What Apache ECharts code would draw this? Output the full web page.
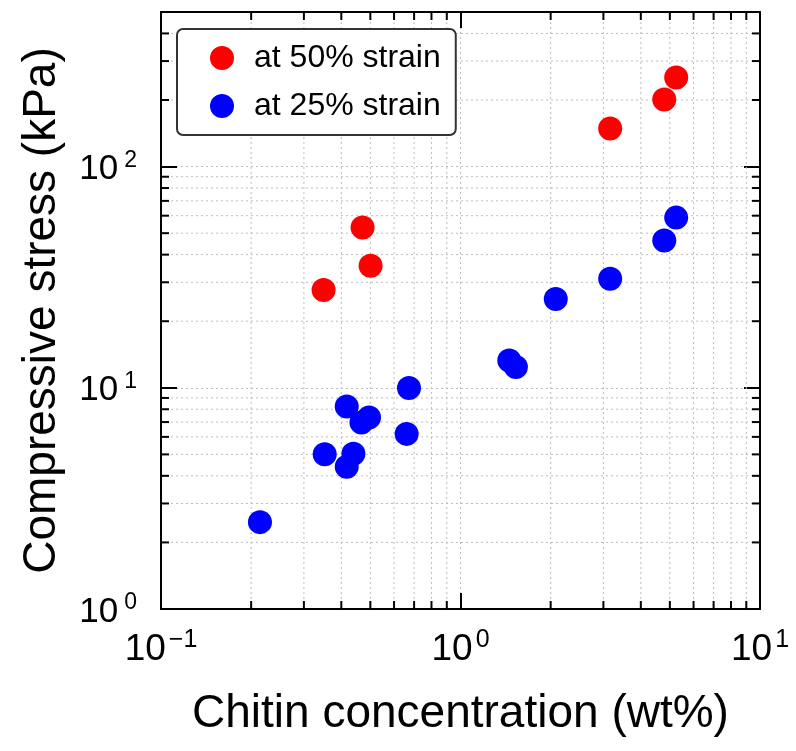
<!DOCTYPE html>
<html>
<head>
<meta charset="utf-8">
<script src="https://cdn.jsdelivr.net/npm/echarts@6/dist/echarts.min.js"></script>
<style>
  html, body { margin: 0; padding: 0; background: #fff; }
  #chart { width: 796px; height: 751px; }
</style>
</head>
<body>
<div id="chart"></div>
<script>
// chitin concentration (wt%) vs compressive stress (kPa)
var strain50X = [0.349, 0.471, 0.501, 3.16, 4.79, 5.25];
var strain50Y = [27.7, 53, 35.6, 148.6, 201, 253];
var strain25X = [0.214, 0.352, 0.417, 0.439, 0.417, 0.467, 0.495, 0.661, 0.673, 1.455, 1.531, 2.08, 3.16, 4.79, 5.25];
var strain25Y = [2.47, 5.01, 4.40, 5.03, 8.23, 6.97, 7.34, 6.19, 9.97, 13.29, 12.41, 25.2, 31.1, 46.3, 58.8];

var xMin = 0.1, xMax = 10;
var yMin = 1, yMax = 500;
var xMinorTicks = [0.2, 0.3, 0.4, 0.5, 0.6, 0.7, 0.8, 0.9, 2, 3, 4, 5, 6, 7, 8, 9];
var yMinorTicks = [2, 3, 4, 5, 6, 7, 8, 9, 20, 30, 40, 50, 60, 70, 80, 90, 200, 300, 400];

var FONT = 'Liberation Sans, Arial, sans-serif';

function zip(xs, ys) {
    return xs.map(function (x, i) { return [x, ys[i]]; });
}

function powLabel(v) {
    var e = Math.log10(v);
    if (Math.abs(e - Math.round(e)) > 1e-6) return '';
    e = Math.round(e);
    return '{b|10}{s|' + (e < 0 ? '\u2212' + (-e) : e) + '}';
}

function richFor(size, supSize, lift, gap) {
    return {
        b: { fontSize: size, fontFamily: FONT, color: '#000', lineHeight: size, padding: [lift, 0, 0, 0] },
        s: { fontSize: supSize, fontFamily: FONT, color: '#000', verticalAlign: 'top', lineHeight: supSize, padding: [0, 0, 0, gap] }
    };
}

var gridStyle = { stroke: '#bdbdbd', lineWidth: 1, lineDash: [2, 3] };
var tickStyle = { stroke: '#000', lineWidth: 2 };

function renderMinorX(params, api) {
    var cs = params.coordSys;
    var x = api.coord([api.value(0), yMin])[0];
    var top = cs.y, bot = cs.y + cs.height;
    return {
        type: 'group',
        children: [
            { type: 'line', shape: { x1: x, y1: top, x2: x, y2: bot }, style: gridStyle },
            { type: 'line', shape: { x1: x, y1: bot, x2: x, y2: bot - 8 }, style: tickStyle },
            { type: 'line', shape: { x1: x, y1: top, x2: x, y2: top + 8 }, style: tickStyle }
        ]
    };
}

function renderMinorY(params, api) {
    var cs = params.coordSys;
    var y = api.coord([xMin, api.value(1)])[1];
    var left = cs.x, right = cs.x + cs.width;
    return {
        type: 'group',
        children: [
            { type: 'line', shape: { x1: left, y1: y, x2: right, y2: y }, style: gridStyle },
            { type: 'line', shape: { x1: left, y1: y, x2: left + 8, y2: y }, style: tickStyle },
            { type: 'line', shape: { x1: right, y1: y, x2: right - 8, y2: y }, style: tickStyle }
        ]
    };
}

var axisLine = { show: true, onZero: false, lineStyle: { color: '#000', width: 2 } };
var majorTick = { show: true, inside: true, length: 16, lineStyle: { color: '#000', width: 2 } };
var splitDotted = { show: true, lineStyle: { color: '#bdbdbd', width: 1, type: [2, 3] } };

var myChart = echarts.init(document.getElementById('chart'));
var option = {
    animation: false,
    backgroundColor: '#fff',
    textStyle: { fontFamily: FONT },
    grid: { left: 161, right: 36, top: 12, bottom: 142 },
    legend: {
        data: ['at 50% strain', 'at 25% strain'],
        orient: 'vertical',
        left: 177,
        top: 29,
        padding: [13, 15, 13, 33],
        itemWidth: 54,
        itemHeight: 24,
        itemGap: 16,
        icon: 'circle',
        backgroundColor: '#fff',
        borderColor: '#333',
        borderWidth: 2,
        borderRadius: 6,
        textStyle: { fontSize: 32, fontFamily: FONT, color: '#000', lineHeight: 30 }
    },
    xAxis: [{
        type: 'log',
        logBase: 10,
        min: xMin,
        max: xMax,
        name: 'Chitin concentration (wt%)',
        nameLocation: 'middle',
        nameGap: 82,
        nameTextStyle: { fontSize: 46, fontFamily: FONT, color: '#000' },
        axisLine: axisLine,
        axisTick: majorTick,
        splitLine: splitDotted,
        axisLabel: { margin: 19, formatter: powLabel, rich: richFor(37, 25, 6, 3) }
    }, {
        type: 'log',
        logBase: 10,
        position: 'top',
        min: xMin,
        max: xMax,
        axisLine: axisLine,
        axisTick: majorTick,
        splitLine: { show: false },
        axisLabel: { show: false }
    }],
    yAxis: [{
        type: 'log',
        logBase: 10,
        min: yMin,
        max: yMax,
        name: 'Compressive stress (kPa)',
        nameLocation: 'middle',
        nameGap: 96,
        nameTextStyle: { fontSize: 46, fontFamily: FONT, color: '#000' },
        axisLine: axisLine,
        axisTick: majorTick,
        splitLine: splitDotted,
        axisLabel: { margin: 24, formatter: powLabel, rich: richFor(35, 23, 6, 6) }
    }, {
        type: 'log',
        logBase: 10,
        position: 'right',
        min: yMin,
        max: yMax,
        axisLine: axisLine,
        axisTick: majorTick,
        splitLine: { show: false },
        axisLabel: { show: false }
    }],
    series: [{
        name: 'minorX',
        type: 'custom',
        silent: true,
        z: 1,
        renderItem: renderMinorX,
        data: xMinorTicks.map(function (v) { return [v, yMin]; })
    }, {
        name: 'minorY',
        type: 'custom',
        silent: true,
        z: 1,
        renderItem: renderMinorY,
        data: yMinorTicks.map(function (v) { return [xMin, v]; })
    }, {
        name: 'at 50% strain',
        type: 'scatter',
        z: 3,
        symbolSize: 24,
        itemStyle: { color: '#ff0000', opacity: 1 },
        data: zip(strain50X, strain50Y)
    }, {
        name: 'at 25% strain',
        type: 'scatter',
        z: 3,
        symbolSize: 24,
        itemStyle: { color: '#0000ff', opacity: 1 },
        data: zip(strain25X, strain25Y)
    }]
};
option && myChart.setOption(option);
</script>
</body>
</html>
